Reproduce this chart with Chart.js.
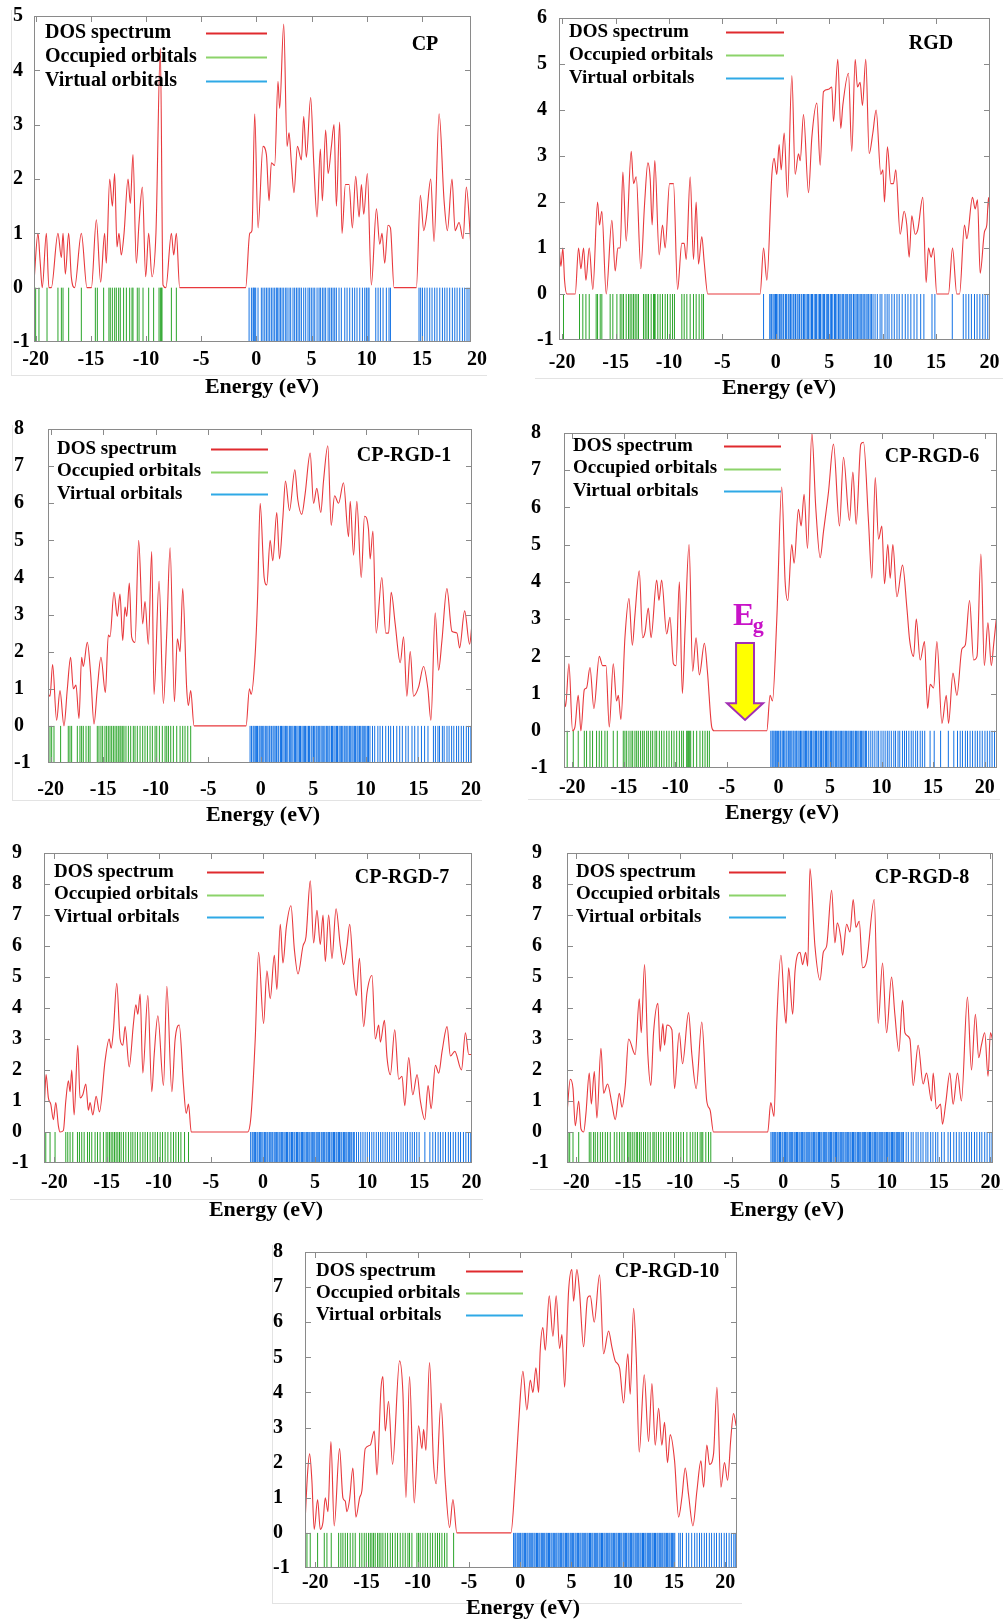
<!DOCTYPE html>
<html>
<head>
<meta charset="utf-8">
<script src="https://cdn.jsdelivr.net/npm/chart.js@4.4.0/dist/chart.umd.min.js"></script>
<style>
  body { margin: 0; background: #fff; width: 1003px; height: 1621px; position: relative; overflow: hidden; }
  canvas { position: absolute; z-index: 1; }
  .edge { position: absolute; background: #e3e3e3; z-index: 0; }
</style>
</head>
<body>
<script>
// tick labels
const xTicks = [-20, -15, -10, -5, 0, 5, 10, 15, 20];
const yTicks5 = [-1, 0, 1, 2, 3, 4, 5];
const yTicks6 = [-1, 0, 1, 2, 3, 4, 5, 6];
const yTicks8 = [-1, 0, 1, 2, 3, 4, 5, 6, 7, 8];
const yTicks9 = [-1, 0, 1, 2, 3, 4, 5, 6, 7, 8, 9];
const legendNames = ['DOS spectrum', 'Occupied orbitals', 'Virtual orbitals'];

// DOS curves, [energy eV, density]
const cpDos = [[-20.15,0.1],[-19.79,1.0],[-19.6,0.5],[-19.4,0],[-19.03,1.0],[-18.8,0],[-18.58,0],[-17.98,1.0],[-17.67,0.55],[-17.52,1.0],[-17.31,0.25],[-17.01,1.0],[-16.77,0.2],[-16.47,0],[-15.86,1.0],[-15.35,0],[-14.95,0],[-14.5,1.25],[-14.11,0.1],[-13.75,1.0],[-13.6,0.45],[-13.29,2.0],[-13.05,1.5],[-12.84,2.1],[-12.63,0.75],[-12.45,1.0],[-12.24,0.6],[-11.99,1.0],[-11.63,2.0],[-11.42,1.55],[-11.18,2.45],[-10.88,0.45],[-10.63,1.2],[-10.33,1.85],[-10.03,0.2],[-9.76,1.0],[-9.46,0.2],[-9.1,1.0],[-8.7,4.4],[-8.46,0.05],[-8.2,0],[-7.7,1.0],[-7.49,0.6],[-7.25,1.0],[-6.95,0],[-0.97,0],[-0.6,1.0],[-0.4,1.05],[-0.15,3.2],[0.15,1.1],[0.6,2.6],[0.91,2.45],[1.15,1.6],[1.36,2.3],[1.66,2.25],[1.96,3.8],[2.11,3.3],[2.48,4.85],[2.78,2.6],[2.96,2.85],[3.17,2.3],[3.41,1.75],[3.72,2.6],[4.08,2.35],[4.29,3.15],[4.53,2.4],[4.92,3.5],[5.2,2.3],[5.5,1.3],[5.8,2.55],[5.98,1.6],[6.28,2.9],[6.5,2.1],[6.8,2.6],[7.04,3.0],[7.25,1.5],[7.55,3.05],[7.76,1.0],[8.07,1.9],[8.4,1.9],[8.7,1.1],[9.0,2.05],[9.31,1.3],[9.52,1.9],[9.73,1.35],[10.06,2.1],[10.42,0.05],[10.88,1.45],[11.18,0.8],[11.39,1.0],[11.63,0.45],[11.93,1.15],[12.15,1.1],[12.48,0],[14.5,0],[14.86,1.7],[15.17,1.05],[15.41,1.3],[15.8,2.0],[16.1,0.85],[16.56,3.2],[17.01,1.6],[17.31,1.05],[17.73,2.0],[18.01,1.05],[18.37,1.2],[18.73,0.9],[19.03,1.85],[19.43,0.8]];

const rgdDos = [[-20.28,1.0],[-20.12,0.6],[-19.94,1.0],[-19.78,0.3],[-19.56,0],[-18.78,0],[-18.47,1.0],[-18.25,0.55],[-18.0,1.0],[-17.78,0.3],[-17.47,1.0],[-17.13,0.1],[-16.69,2.0],[-16.51,1.5],[-16.29,1.8],[-15.88,0],[-15.35,1.6],[-15.04,0.5],[-14.79,1.0],[-14.57,1.0],[-14.32,2.65],[-14.01,1.15],[-13.54,3.1],[-13.32,2.4],[-13.07,2.55],[-12.64,0.55],[-12.29,1.95],[-11.98,2.85],[-11.76,2.5],[-11.58,1.5],[-11.33,2.9],[-10.92,0.85],[-10.61,1.5],[-10.36,1.0],[-9.95,2.4],[-9.58,2.4],[-9.2,0.1],[-8.8,1.1],[-8.58,1.1],[-8.39,0.75],[-8.02,2.55],[-7.71,0.75],[-7.46,2.0],[-7.24,0.65],[-6.93,1.25],[-6.71,0.7],[-6.37,0],[-1.47,0],[-1.15,1.0],[-0.84,0.3],[-0.37,2.6],[-0.16,2.95],[0.09,2.6],[0.31,3.25],[0.5,2.7],[0.78,3.5],[1.09,2.1],[1.5,4.75],[1.81,2.6],[2.12,3.05],[2.28,2.9],[2.59,3.9],[3.06,2.2],[3.37,3.4],[3.84,4.15],[4.15,2.8],[4.46,4.4],[4.93,4.45],[5.24,4.5],[5.4,3.75],[5.8,5.1],[6.08,3.6],[6.27,4.1],[6.8,4.8],[7.11,3.1],[7.43,5.1],[7.64,4.5],[7.89,4.6],[8.11,4.1],[8.42,5.1],[8.74,3.05],[9.08,3.5],[9.39,4.0],[9.83,2.6],[10.02,2.7],[10.17,2.0],[10.45,3.2],[10.76,2.4],[11.01,2.4],[11.23,2.7],[11.64,1.3],[12.01,1.8],[12.26,1.5],[12.48,0.8],[12.73,1.7],[13.04,1.3],[13.29,1.4],[13.76,2.1],[14.07,0.25],[14.29,1.0],[14.54,0.8],[14.76,1.0],[15.07,0],[16.16,0],[16.54,1.0],[16.94,0],[17.2,0],[17.66,1.5],[17.88,1.2],[18.41,2.1],[18.66,1.85],[18.88,2.05],[19.13,0.45],[19.53,1.35],[19.75,1.5],[19.91,2.1],[20.06,1.6]];

const rgd1Dos = [[-20.22,0.85],[-20.06,0.8],[-19.81,1.65],[-19.43,0.15],[-19.11,0.95],[-18.73,0],[-18.41,1.0],[-18.1,1.85],[-17.84,1.0],[-17.59,1.1],[-17.3,0.2],[-17.05,1.85],[-16.89,1.6],[-16.51,2.25],[-16.19,1.4],[-15.87,0.05],[-15.56,1.0],[-15.21,1.85],[-14.79,0.9],[-14.51,2.45],[-14.35,2.4],[-13.97,3.6],[-13.65,2.95],[-13.4,3.55],[-13.14,2.3],[-12.92,3.2],[-12.76,2.95],[-12.51,3.85],[-12.29,2.4],[-11.97,2.25],[-11.62,5.0],[-11.24,2.75],[-11.02,3.35],[-10.7,2.2],[-10.38,4.7],[-10.16,0.85],[-9.68,3.9],[-9.27,0.6],[-8.95,2.5],[-8.63,4.8],[-8.22,0.65],[-7.94,2.35],[-7.68,2.0],[-7.43,3.7],[-7.05,1.0],[-6.89,0.55],[-6.67,0.95],[-6.35,0],[-1.4,0],[-1.08,1.0],[-0.92,0.85],[-0.54,1.9],[-0.3,3.5],[-0.06,6.0],[0.32,4.0],[0.57,3.8],[0.89,5.0],[1.14,4.45],[1.52,5.75],[1.78,4.5],[2.1,5.6],[2.35,6.6],[2.73,5.8],[3.24,6.9],[3.52,6.1],[3.9,5.7],[4.22,6.25],[4.7,7.35],[5.02,6.0],[5.33,6.4],[5.71,5.75],[5.97,6.6],[6.38,7.55],[6.7,5.4],[7.02,6.2],[7.4,6.0],[7.87,6.55],[8.35,5.1],[8.51,6.05],[8.83,4.6],[9.14,6.05],[9.56,4.0],[9.87,5.65],[10.25,5.3],[10.41,4.5],[10.67,5.25],[10.98,2.5],[11.52,4.0],[11.9,2.5],[12.16,2.5],[12.41,3.6],[12.79,2.75],[13.27,1.7],[13.59,2.4],[13.9,0.8],[14.22,2.0],[14.54,0.8],[15.02,1.05],[15.49,1.6],[15.9,1.0],[16.19,0.15],[16.6,3.05],[16.92,1.5],[17.24,2.3],[17.71,3.7],[18.19,2.55],[18.67,2.5],[18.92,2.1],[19.4,3.1],[19.87,2.2],[20.1,2.75]];

const rgd6Dos = [[-20.81,1.0],[-20.65,0.65],[-20.32,1.8],[-19.97,0],[-19.74,0.1],[-19.42,0.95],[-19.16,0],[-18.83,1.1],[-18.61,1.15],[-18.28,1.7],[-17.9,0.6],[-17.38,2.0],[-17.06,1.75],[-16.73,1.75],[-16.41,0.1],[-16.02,1.8],[-15.7,0.8],[-15.53,0.95],[-15.28,0.3],[-14.89,2.5],[-14.5,3.55],[-14.17,2.3],[-13.92,3.1],[-13.5,4.3],[-13.17,2.5],[-12.94,2.65],[-12.62,3.3],[-12.36,2.5],[-11.81,4.05],[-11.59,3.5],[-11.33,4.05],[-10.84,2.6],[-10.52,3.05],[-10.19,1.8],[-9.94,1.75],[-9.61,4.0],[-9.32,1.0],[-9.06,2.7],[-8.67,5.0],[-8.32,1.6],[-7.99,2.5],[-7.67,1.5],[-7.18,2.35],[-6.89,1.6],[-6.47,0.1],[-6.25,0],[-1.13,0],[-0.81,0.95],[-0.58,0.8],[-0.16,3.0],[0.32,6.55],[0.65,4.0],[0.91,3.5],[1.29,5.0],[1.52,4.5],[1.94,5.95],[2.2,5.5],[2.49,6.35],[2.82,4.9],[3.24,8.0],[3.62,6.0],[4.05,4.65],[4.37,5.35],[4.85,6.4],[5.34,7.7],[5.92,5.5],[6.31,7.35],[6.89,5.65],[7.22,6.95],[7.54,5.55],[7.99,7.7],[8.25,7.75],[8.74,5.6],[9.06,4.1],[9.39,6.8],[9.71,5.15],[10.03,5.5],[10.29,3.95],[10.61,5.0],[10.84,4.1],[11.1,5.0],[11.49,3.6],[12.04,4.45],[12.46,3.3],[12.72,2.45],[13.11,2.0],[13.37,3.0],[13.75,1.9],[14.17,2.4],[14.47,0.6],[14.72,1.25],[15.05,1.15],[15.37,2.4],[15.86,0.2],[16.28,0.95],[16.5,0.2],[16.93,1.55],[17.31,0.95],[17.8,2.2],[18.12,2.3],[18.54,3.5],[18.93,1.9],[19.26,2.0],[19.64,4.75],[19.97,1.75],[20.32,2.9],[20.65,1.75],[20.87,2.3],[21.13,3.0]];

const rgd7Dos = [[-20.96,0.9],[-20.8,1.85],[-20.58,1.1],[-20.35,0.9],[-20.1,0.4],[-19.87,0.95],[-19.62,0.2],[-19.46,0],[-19.14,0.05],[-18.91,1.0],[-18.66,1.65],[-18.5,1.3],[-18.34,2.0],[-18.11,0.55],[-17.76,2.8],[-17.54,1.1],[-17.28,1.2],[-16.99,1.55],[-16.74,0.7],[-16.58,0.95],[-16.32,0.55],[-16.0,1.15],[-15.68,0.65],[-15.14,2.3],[-14.75,3.0],[-14.56,2.7],[-14.34,3.3],[-14.02,4.8],[-13.7,3.0],[-13.44,2.8],[-13.22,3.4],[-12.83,2.1],[-12.42,3.5],[-12.19,4.1],[-12.0,3.8],[-11.78,4.45],[-11.52,1.9],[-11.04,4.4],[-10.66,1.3],[-10.43,2.5],[-10.08,3.75],[-9.54,1.5],[-9.22,4.7],[-8.74,1.3],[-8.42,3.0],[-8.03,3.45],[-7.62,1.5],[-7.36,0.6],[-7.14,0.9],[-6.88,0],[-1.47,0],[-1.15,0.5],[-0.74,3.0],[-0.42,5.8],[0.06,3.5],[0.38,5.2],[0.7,4.3],[1.09,5.7],[1.34,4.6],[1.66,6.7],[1.92,5.45],[2.24,6.6],[2.69,7.3],[3.01,5.9],[3.36,5.1],[3.84,6.0],[4.13,6.3],[4.54,8.1],[4.86,6.1],[5.18,7.15],[5.5,6.05],[5.76,7.0],[5.98,5.5],[6.3,7.0],[6.62,5.6],[7.01,7.2],[7.42,6.0],[7.74,5.4],[8.06,6.0],[8.32,6.7],[8.7,5.0],[8.96,4.4],[9.25,5.6],[9.66,3.4],[9.98,4.5],[10.46,5.05],[10.78,3.0],[11.1,3.45],[11.26,2.9],[11.65,3.6],[11.9,2.4],[12.22,1.85],[12.64,3.3],[13.02,1.7],[13.34,1.8],[13.6,0.85],[13.98,2.4],[14.37,1.2],[14.78,1.85],[15.1,1.0],[15.52,0.4],[15.84,1.5],[16.13,0.75],[16.54,2.15],[16.86,1.9],[17.18,2.6],[17.66,3.4],[17.98,2.45],[18.4,2.6],[19.04,2.0],[19.42,3.2],[19.74,2.5],[20.0,2.5]];

const rgd8Dos = [[-20.9,0.6],[-20.58,1.7],[-20.32,1.4],[-20.1,0.2],[-19.77,1.0],[-19.55,0.1],[-19.29,0],[-19.07,0.6],[-18.75,1.9],[-18.55,0.9],[-18.26,1.95],[-18.01,0.45],[-17.62,2.7],[-17.36,1.25],[-16.98,1.55],[-16.56,0.9],[-16.24,0.4],[-15.85,1.25],[-15.59,0.8],[-15.27,1.5],[-14.95,3.0],[-14.31,2.5],[-13.92,4.3],[-13.73,3.2],[-13.41,5.4],[-13.09,2.5],[-12.8,1.5],[-12.54,3.2],[-12.12,4.15],[-11.9,2.6],[-11.64,3.5],[-11.48,2.8],[-11.25,3.45],[-10.77,3.3],[-10.51,1.4],[-10.06,3.2],[-9.74,2.2],[-9.16,3.85],[-8.84,2.5],[-8.42,1.4],[-7.88,3.55],[-7.4,1.0],[-7.07,0.7],[-6.75,0],[-1.51,0],[-1.22,0.95],[-0.9,0.5],[-0.64,3.5],[-0.23,5.7],[0.1,4.0],[0.26,3.5],[0.51,5.3],[0.9,3.8],[1.13,5.2],[1.61,5.8],[1.86,5.4],[2.15,5.8],[2.35,5.35],[2.57,8.5],[3.05,6.0],[3.54,4.9],[3.86,5.8],[4.18,6.0],[4.66,7.8],[4.98,6.1],[5.21,6.75],[5.53,6.3],[5.72,5.7],[6.11,6.7],[6.43,6.45],[6.75,7.5],[7.01,6.6],[7.33,6.8],[7.65,5.3],[8.04,5.5],[8.78,7.5],[9.16,3.5],[9.58,5.45],[9.97,3.2],[10.45,5.0],[10.77,3.8],[11.16,2.6],[11.51,4.25],[11.74,3.2],[12.22,3.0],[12.54,1.5],[13.02,2.8],[13.5,1.55],[13.83,1.9],[14.31,1.0],[14.47,1.9],[14.79,0.75],[15.18,0.9],[15.37,0.25],[15.69,0.95],[16.08,1.9],[16.4,0.9],[16.82,1.9],[17.2,1.0],[17.78,4.35],[18.17,2.0],[18.55,3.8],[18.87,2.4],[19.13,2.8],[19.45,3.2],[19.77,1.8],[20.0,3.2],[20.26,2.9]];

const rgd10Dos = [[-20.98,0.4],[-20.75,1.7],[-20.55,2.25],[-20.33,1.5],[-20.1,0.1],[-19.77,0.95],[-19.51,0.1],[-19.25,0.3],[-19.02,1.0],[-18.76,0.6],[-18.47,2.6],[-18.15,0.2],[-17.63,2.4],[-17.3,1.0],[-17.07,0.9],[-16.91,0.6],[-16.65,0.95],[-16.33,1.85],[-16.03,0.45],[-15.67,1.0],[-15.45,1.2],[-15.12,2.4],[-14.63,2.5],[-14.24,2.9],[-13.98,1.65],[-13.59,4.1],[-13.4,4.45],[-13.17,2.9],[-12.85,3.75],[-12.46,1.95],[-11.77,4.9],[-11.45,4.0],[-11.15,1.0],[-10.8,4.45],[-10.34,0.85],[-9.92,3.05],[-9.59,2.4],[-9.43,2.95],[-9.2,2.35],[-8.85,4.85],[-8.46,2.0],[-8.2,1.4],[-7.74,3.7],[-7.32,1.5],[-6.89,0.15],[-6.57,0.95],[-6.18,0],[-0.91,0],[-0.49,1.5],[-0.16,3.1],[0.26,4.6],[0.65,3.5],[0.98,4.35],[1.24,4.0],[1.53,4.7],[1.79,4.0],[1.95,5.2],[2.21,5.85],[2.44,5.2],[2.83,6.75],[3.19,5.6],[3.51,6.75],[3.84,5.25],[4.07,5.65],[4.33,4.15],[4.72,6.9],[5.04,7.5],[5.2,6.6],[5.53,7.5],[5.79,6.85],[6.18,5.3],[6.57,6.7],[6.83,6.75],[7.22,6.0],[7.74,7.35],[8.13,5.1],[8.62,5.75],[8.94,5.3],[9.27,4.9],[9.69,4.7],[10.08,3.7],[10.5,5.1],[10.73,3.95],[11.06,6.4],[11.32,5.0],[11.61,2.3],[12.1,4.5],[12.52,2.6],[12.85,4.25],[13.17,2.5],[13.5,3.55],[13.82,2.5],[14.08,3.15],[14.37,2.0],[14.63,2.8],[15.06,2.05],[15.45,0.45],[15.77,1.0],[16.1,1.85],[16.42,1.1],[16.85,0.2],[17.24,1.2],[17.63,2.05],[17.89,1.3],[18.21,2.5],[18.47,1.95],[18.86,2.25],[19.19,4.15],[19.58,1.3],[19.93,2.0],[20.23,1.5],[20.55,2.7],[20.81,3.4],[21.07,3.05]];

// orbital energies (eV)
const cpOcc = [-20.0,-19.7,-18.97,-17.98,-17.67,-17.52,-17.01,-15.86,-14.59,-14.41,-13.84,-13.36,-13.24,-13.05,-12.84,-12.69,-12.48,-12.33,-12.03,-11.78,-11.48,-11.27,-11.18,-10.79,-10.63,-10.27,-9.76,-9.31,-8.82,-8.7,-8.61,-8.55,-7.7,-7.25];
const cpVirt = [-0.66,-0.45,-0.3,-0.24,-0.15,-0.06,0.15,0.45,0.6,0.76,0.91,1.06,1.21,1.36,1.51,1.66,1.81,1.9,2.05,2.18,2.33,2.48,2.66,2.78,2.96,3.11,3.32,3.47,3.63,3.78,3.93,4.08,4.29,4.47,4.68,4.83,4.98,5.14,5.29,5.5,5.68,5.8,5.98,6.13,6.28,6.5,6.65,6.8,6.95,7.1,7.25,7.49,7.7,8.01,8.22,8.46,8.7,8.91,9.12,9.37,9.61,9.82,9.97,10.12,10.21,10.82,11.03,11.24,11.48,11.78,12.02,12.15,14.74,14.89,15.05,15.26,15.47,15.71,15.92,16.16,16.37,16.62,16.86,17.07,17.28,17.52,17.76,17.98,18.19,18.43,18.67,18.88,19.09,19.27];

const rgdOcc = [-19.88,-18.38,-18.07,-17.78,-17.47,-16.82,-16.69,-16.44,-16.29,-15.51,-15.26,-14.88,-14.57,-14.41,-14.26,-14.01,-13.79,-13.64,-13.48,-13.32,-13.17,-13.01,-12.86,-12.39,-12.23,-12.07,-11.92,-11.67,-11.45,-11.36,-11.3,-11.05,-10.83,-10.61,-10.36,-10.14,-9.89,-9.67,-9.49,-8.8,-8.58,-8.33,-8.02,-7.71,-7.46,-7.18,-6.93,-6.77];
const rgdVirt = [-1.15,-0.57,-0.46,-0.39,-0.26,-0.15,-0.03,0.06,0.19,0.33,0.41,0.55,0.68,0.74,0.9,1.01,1.16,1.24,1.37,1.5,1.63,1.7,1.84,1.99,2.08,2.21,2.37,2.44,2.59,2.7,2.83,2.98,3.05,3.2,3.34,3.43,3.59,3.72,3.8,3.96,4.09,4.18,4.33,4.47,4.56,4.72,4.85,4.94,5.1,5.21,5.33,5.49,5.58,5.72,5.87,5.99,6.1,6.26,6.35,6.5,6.64,6.73,6.88,7.02,7.11,7.27,7.4,7.52,7.66,7.78,7.9,8.04,8.17,8.28,8.44,8.55,8.69,8.83,8.95,9.1,9.29,9.5,9.76,9.93,10.22,10.42,10.6,10.86,11.09,11.34,11.55,11.83,12.12,12.37,12.64,12.94,13.21,13.56,13.86,14.62,14.89,16.52,17.55,17.8,18.06,18.31,18.6,18.84,19.1,19.37,19.6,19.84];

const rgd1Occ = [-20.06,-19.9,-19.68,-19.05,-18.32,-18.16,-18.0,-17.46,-17.21,-17.05,-16.89,-16.63,-16.41,-16.25,-15.56,-15.4,-15.21,-15.05,-14.83,-14.67,-14.51,-14.35,-14.19,-14.03,-13.87,-13.71,-13.56,-13.4,-13.3,-13.14,-13.02,-12.83,-12.6,-12.38,-12.13,-11.97,-11.75,-11.49,-11.24,-11.02,-10.79,-10.54,-10.32,-10.06,-9.9,-9.65,-9.37,-9.11,-8.95,-8.79,-8.57,-8.32,-8.0,-7.68,-7.43,-7.21,-6.95,-6.67];
const rgd1Virt = [-1.02,-0.88,-0.73,-0.64,-0.52,-0.4,-0.31,-0.16,-0.07,0.05,0.18,0.29,0.43,0.52,0.67,0.8,0.87,1.01,1.16,1.26,1.37,1.49,1.64,1.71,1.87,1.97,2.1,2.22,2.36,2.43,2.57,2.72,2.81,2.95,3.06,3.2,3.3,3.43,3.55,3.68,3.78,3.92,4.04,4.17,4.26,4.4,4.54,4.63,4.79,4.88,5.02,5.13,5.27,5.36,5.51,5.61,5.74,5.85,5.99,6.1,6.24,6.33,6.48,6.58,6.73,6.82,6.96,7.07,7.21,7.3,7.45,7.56,7.69,7.8,7.94,8.03,8.18,8.29,8.43,8.52,8.67,8.78,8.91,9.02,9.16,9.26,9.4,9.51,9.65,9.75,9.89,10.0,10.14,10.25,10.39,10.63,10.84,11.14,11.35,11.59,11.89,12.15,12.36,12.63,12.94,13.22,13.47,13.8,14.03,14.39,14.65,14.96,15.29,15.59,15.91,16.43,16.62,16.86,17.01,17.28,17.45,17.72,17.92,18.16,18.37,18.63,18.83,19.08,19.3,19.56,19.77,19.99];

const rgd6Occ = [-20.49,-19.9,-19.42,-18.83,-18.61,-18.28,-18.03,-17.64,-17.38,-17.15,-16.83,-16.6,-16.02,-15.63,-15.05,-14.89,-14.72,-14.5,-14.3,-14.14,-13.92,-13.75,-13.59,-13.37,-13.17,-13.01,-12.78,-12.62,-12.39,-12.2,-11.97,-11.81,-11.55,-11.33,-11.1,-10.84,-10.61,-10.36,-10.13,-9.87,-9.61,-9.39,-9.22,-8.9,-8.8,-8.71,-8.61,-8.51,-8.25,-7.93,-7.61,-7.35,-7.12,-6.89,-6.7];
const rgd6Virt = [-0.74,-0.61,-0.52,-0.42,-0.3,-0.21,-0.08,0.02,0.16,0.23,0.37,0.5,0.56,0.73,0.82,0.96,1.05,1.19,1.3,1.43,1.52,1.68,1.77,1.9,2.01,2.14,2.26,2.39,2.5,2.63,2.73,2.87,2.96,3.12,3.21,3.35,3.46,3.59,3.69,3.84,3.93,4.07,4.18,4.32,4.41,4.56,4.66,4.79,4.9,5.04,5.14,5.28,5.38,5.52,5.62,5.77,5.87,6.0,6.11,6.25,6.36,6.49,6.59,6.74,6.84,6.97,7.08,7.22,7.32,7.47,7.56,7.7,7.81,7.95,8.05,8.19,8.3,8.44,8.55,8.76,8.96,9.15,9.35,9.56,9.72,9.95,10.15,10.35,10.56,10.74,10.95,11.19,11.36,11.6,11.77,12.03,12.23,12.42,12.65,12.88,13.07,13.31,13.5,13.75,13.96,14.19,14.71,15.11,15.73,16.48,17.01,17.37,17.63,17.85,18.13,18.34,18.59,18.83,19.08,19.3,19.54,19.77,20.03,20.26,20.5,20.72,20.96];

const rgd7Occ = [-20.83,-20.42,-19.94,-18.91,-18.72,-18.5,-18.24,-17.79,-17.6,-17.38,-17.15,-16.83,-16.64,-16.42,-16.1,-15.87,-15.62,-15.3,-15.04,-14.88,-14.72,-14.56,-14.4,-14.24,-14.08,-13.92,-13.76,-13.6,-13.38,-13.15,-12.9,-12.67,-12.48,-12.26,-12.03,-11.78,-11.52,-11.3,-11.07,-10.82,-10.56,-10.34,-10.11,-9.86,-9.63,-9.38,-9.12,-8.83,-8.58,-8.35,-8.1,-7.87,-7.52,-7.14];
const rgd7Virt = [-1.18,-1.03,-0.94,-0.8,-0.71,-0.57,-0.48,-0.34,-0.25,-0.11,0.0,0.14,0.23,0.38,0.47,0.61,0.7,0.85,0.94,1.08,1.18,1.31,1.42,1.55,1.65,1.79,1.89,2.02,2.13,2.26,2.36,2.51,2.6,2.74,2.84,2.98,3.07,3.22,3.31,3.45,3.55,3.69,3.79,3.92,4.03,4.16,4.26,4.4,4.5,4.63,4.74,4.87,4.97,5.11,5.21,5.35,5.44,5.59,5.68,5.82,5.92,6.06,6.15,6.3,6.39,6.53,6.63,6.77,6.86,7.01,7.1,7.24,7.34,7.48,7.57,7.72,7.81,7.95,8.05,8.19,8.29,8.43,8.52,8.67,8.76,8.97,9.17,9.38,9.59,9.8,10.01,10.22,10.44,10.64,10.87,11.08,11.29,11.5,11.72,11.93,12.15,12.36,12.58,12.81,13.01,13.24,13.45,13.69,13.86,14.11,14.32,14.53,14.75,14.98,15.53,16.01,16.29,16.54,16.8,17.02,17.27,17.51,17.78,17.99,18.25,18.48,18.74,18.95,19.23,19.46,19.71,19.93];

const rgd8Occ = [-20.8,-20.64,-20.32,-19.77,-18.75,-18.59,-18.33,-18.17,-17.94,-17.68,-17.46,-17.2,-16.98,-16.72,-16.33,-16.08,-15.82,-15.59,-15.37,-15.05,-14.92,-14.79,-14.6,-14.41,-14.21,-14.08,-13.89,-13.73,-13.5,-13.31,-13.09,-12.86,-12.6,-12.48,-12.28,-12.06,-11.83,-11.58,-11.32,-11.09,-10.87,-10.61,-10.35,-10.13,-9.9,-9.65,-9.32,-9.0,-8.75,-8.52,-8.3,-8.04,-7.88,-7.78,-7.49,-7.23,-7.01];
const rgd8Virt = [-1.2,-1.07,-0.98,-0.84,-0.74,-0.6,-0.51,-0.37,-0.28,-0.13,-0.04,0.1,0.2,0.33,0.43,0.57,0.67,0.8,0.9,1.04,1.14,1.27,1.37,1.51,1.61,1.74,1.84,1.98,2.08,2.21,2.31,2.45,2.55,2.68,2.78,2.92,3.02,3.15,3.25,3.39,3.49,3.62,3.72,3.86,3.96,4.09,4.19,4.33,4.43,4.56,4.66,4.8,4.9,5.03,5.13,5.27,5.37,5.5,5.6,5.74,5.84,5.97,6.07,6.21,6.31,6.44,6.54,6.68,6.78,6.91,7.01,7.15,7.25,7.38,7.48,7.62,7.72,7.85,7.95,8.09,8.19,8.32,8.42,8.56,8.66,8.79,8.89,9.03,9.13,9.26,9.36,9.5,9.6,9.73,9.83,9.97,10.07,10.2,10.3,10.44,10.54,10.67,10.77,10.91,11.01,11.14,11.24,11.38,11.48,11.61,11.86,12.07,12.35,12.54,12.82,13.02,13.28,13.49,13.77,13.96,14.23,14.45,14.71,14.92,15.29,15.54,15.91,16.14,16.46,16.71,16.98,17.19,17.47,17.7,17.96,18.18,18.46,18.69,18.96,19.17,19.45,19.68,19.94,20.15];

const rgd10Occ = [-20.81,-20.49,-19.77,-19.12,-18.86,-18.44,-17.72,-17.5,-17.3,-17.07,-16.85,-16.59,-16.33,-16.1,-15.67,-15.45,-15.22,-15.02,-14.8,-14.63,-14.47,-14.31,-14.15,-13.92,-13.76,-13.59,-13.4,-13.17,-12.94,-12.68,-12.46,-12.2,-11.97,-11.71,-11.45,-11.22,-10.96,-10.8,-10.57,-10.08,-9.92,-9.76,-9.5,-9.27,-9.04,-8.78,-8.55,-8.29,-8.07,-7.87,-7.64,-7.38,-7.15,-6.5];
const rgd10Virt = [-0.65,-0.52,-0.43,-0.29,-0.19,-0.05,0.04,0.18,0.28,0.41,0.51,0.65,0.75,0.88,0.98,1.12,1.22,1.35,1.45,1.59,1.69,1.82,1.92,2.06,2.16,2.29,2.39,2.53,2.63,2.76,2.86,3.0,3.1,3.23,3.33,3.47,3.57,3.7,3.8,3.94,4.04,4.17,4.27,4.41,4.51,4.64,4.74,4.88,4.98,5.11,5.21,5.35,5.45,5.58,5.68,5.82,5.92,6.05,6.15,6.29,6.39,6.52,6.62,6.76,6.86,6.99,7.09,7.23,7.33,7.46,7.56,7.7,7.8,7.93,8.03,8.17,8.27,8.4,8.5,8.64,8.74,8.87,8.97,9.11,9.21,9.34,9.44,9.58,9.68,9.81,9.91,10.05,10.15,10.28,10.38,10.52,10.62,10.75,10.85,10.99,11.09,11.22,11.32,11.46,11.56,11.69,11.79,11.93,12.03,12.16,12.26,12.4,12.5,12.63,12.73,12.87,12.97,13.1,13.2,13.34,13.44,13.57,13.67,13.81,13.91,14.04,14.14,14.28,14.38,14.51,14.61,14.75,14.85,14.98,15.08,15.47,15.62,15.83,16.21,16.44,16.73,17.02,17.25,17.49,17.7,17.96,18.18,18.45,18.67,18.93,19.15,19.42,19.63,19.9,20.12,20.38,20.6,20.84,20.98];

// panel layout (page pixels) and axis ranges
const panels = [
  { name: 'CP', dos: cpDos, occ: cpOcc, virt: cpVirt, yTicks: yTicks5, xMin: -20.15, xMax: 19.45,
    frame: [34, 16, 471, 342], xLabelY: 360, yLabelX: 13, title: [262, 387], tag: [425, 45],
    legend: { x: 45, y: 33, gap: 24, line: [206, 267], size: 20 },
    edges: [[11, 10, 1, 365], [11, 375, 476, 1]] },
  { name: 'RGD', dos: rgdDos, occ: rgdOcc, virt: rgdVirt, yTicks: yTicks6, xMin: -20.3, xMax: 20.05,
    frame: [559, 18, 990, 340], xLabelY: 363, yLabelX: 537, title: [779, 388], tag: [931, 44],
    legend: { x: 569, y: 32, gap: 23, line: [726, 784], size: 19 },
    edges: [[535, 378, 468, 1]] },
  { name: 'CP-RGD-1', dos: rgd1Dos, occ: rgd1Occ, virt: rgd1Virt, yTicks: yTicks8, xMin: -20.25, xMax: 20.1,
    frame: [48, 429, 472, 763], xLabelY: 790, yLabelX: 14, title: [263, 815], tag: [404, 456],
    legend: { x: 57, y: 449, gap: 22.5, line: [211, 268], size: 19 },
    edges: [[12, 425, 1, 375], [12, 800, 470, 1]] },
  { name: 'CP-RGD-6', dos: rgd6Dos, occ: rgd6Occ, virt: rgd6Virt, yTicks: yTicks8, xMin: -20.8, xMax: 21.2,
    frame: [564, 433, 997, 768], xLabelY: 788, yLabelX: 531, title: [782, 813], tag: [932, 457],
    legend: { x: 573, y: 446, gap: 22.5, line: [724, 781], size: 19 },
    edges: [[528, 799, 472, 1]],
    gapArrow: { x: -3.24, half: 0.87, headHalf: 1.75, top: 2.36, neck: 0.74, tip: 0.29,
                text: [-4.4, 2.84], sub: [-2.49, 2.66] } },
  { name: 'CP-RGD-7', dos: rgd7Dos, occ: rgd7Occ, virt: rgd7Virt, yTicks: yTicks9, xMin: -21.0, xMax: 20.05,
    frame: [44, 853, 472, 1163], xLabelY: 1183, yLabelX: 12, title: [266, 1210], tag: [402, 878],
    legend: { x: 54, y: 872, gap: 22.5, line: [207, 264], size: 19 },
    edges: [[10, 1199, 473, 1]] },
  { name: 'CP-RGD-8', dos: rgd8Dos, occ: rgd8Occ, virt: rgd8Virt, yTicks: yTicks9, xMin: -20.9, xMax: 20.25,
    frame: [567, 853, 993, 1163], xLabelY: 1183, yLabelX: 532, title: [787, 1210], tag: [922, 878],
    legend: { x: 576, y: 872, gap: 22.5, line: [729, 786], size: 19 },
    edges: [[530, 1189, 473, 1]] },
  { name: 'CP-RGD-10', dos: rgd10Dos, occ: rgd10Occ, virt: rgd10Virt, yTicks: yTicks8, xMin: -21.0, xMax: 21.15,
    frame: [305, 1252, 737, 1568], xLabelY: 1583, yLabelX: 273, title: [523, 1608], tag: [667, 1272],
    legend: { x: 316, y: 1271, gap: 22, line: [466, 523], size: 19 },
    edges: [[272, 1245, 1, 358], [272, 1603, 470, 1]] }
];

const PAD = { l: 40, t: 25, r: 35, b: 75 };
const SERIF = '"Liberation Serif", "Times New Roman", serif';
const RED = '#e8393d', GREEN = '#2ba52b', BLUE = '#1472e4';
const LEGEND_COLORS = ['#e02a2e', '#8cd36a', '#2fa9e6'];

// each orbital becomes a vertical stick from -1 to 0, separated by gaps
function sticks(energies) {
  const pts = [];
  energies.forEach(e => { pts.push({ x: e, y: -1 }, { x: e, y: 0 }, { x: e, y: null }); });
  return pts;
}

function panelDecor(p) {
  return {
    id: 'decor',
    afterDraw(chart) {
      const { ctx, chartArea: a } = chart;
      const sx = chart.scales.x, sy = chart.scales.y;
      const ox = p.frame[0] - PAD.l, oy = p.frame[1] - PAD.t;
      ctx.save();

      // frame with inward ticks
      ctx.strokeStyle = '#8a8a8a';
      ctx.lineWidth = 1;
      ctx.strokeRect(a.left + 0.5, a.top + 0.5, a.right - a.left - 1, a.bottom - a.top - 1);
      ctx.beginPath();
      xTicks.forEach(v => {
        if (v <= sx.min || v >= sx.max) return;
        const px = Math.round(sx.getPixelForValue(v)) + 0.5;
        ctx.moveTo(px, a.bottom); ctx.lineTo(px, a.bottom - 6);
        ctx.moveTo(px, a.top); ctx.lineTo(px, a.top + 6);
      });
      p.yTicks.forEach(v => {
        if (v <= sy.min || v >= sy.max) return;
        const py = Math.round(sy.getPixelForValue(v)) + 0.5;
        ctx.moveTo(a.left, py); ctx.lineTo(a.left + 6, py);
        ctx.moveTo(a.right, py); ctx.lineTo(a.right - 6, py);
      });
      ctx.stroke();

      // tick labels
      ctx.fillStyle = '#000';
      ctx.font = 'bold 20px ' + SERIF;
      ctx.textBaseline = 'middle';
      ctx.textAlign = 'center';
      xTicks.forEach(v => ctx.fillText(String(v), sx.getPixelForValue(v), p.xLabelY - oy));
      ctx.textAlign = 'left';
      p.yTicks.forEach(v => ctx.fillText(String(v), p.yLabelX - ox, sy.getPixelForValue(v)));

      // axis title
      ctx.textAlign = 'center';
      ctx.font = 'bold 22px ' + SERIF;
      ctx.fillText('Energy (eV)', p.title[0] - ox, p.title[1] - oy);

      // legend
      const lg = p.legend;
      ctx.font = 'bold ' + lg.size + 'px ' + SERIF;
      ctx.textAlign = 'left';
      legendNames.forEach((name, i) => {
        const ly = lg.y + i * lg.gap - oy;
        ctx.fillStyle = '#000';
        ctx.fillText(name, lg.x - ox, ly);
        ctx.strokeStyle = LEGEND_COLORS[i];
        ctx.lineWidth = 2;
        ctx.beginPath();
        ctx.moveTo(lg.line[0] - ox, Math.round(ly) + 0.5);
        ctx.lineTo(lg.line[1] - ox, Math.round(ly) + 0.5);
        ctx.stroke();
      });

      // panel name
      ctx.fillStyle = '#000';
      ctx.textAlign = 'center';
      ctx.font = 'bold 20px ' + SERIF;
      ctx.fillText(p.name, p.tag[0] - ox, p.tag[1] - oy);

      // band gap arrow
      const g = p.gapArrow;
      if (g) {
        const X = v => sx.getPixelForValue(v), Y = v => sy.getPixelForValue(v);
        ctx.beginPath();
        ctx.moveTo(X(g.x - g.half), Y(g.top));
        ctx.lineTo(X(g.x + g.half), Y(g.top));
        ctx.lineTo(X(g.x + g.half), Y(g.neck));
        ctx.lineTo(X(g.x + g.headHalf), Y(g.neck));
        ctx.lineTo(X(g.x), Y(g.tip));
        ctx.lineTo(X(g.x - g.headHalf), Y(g.neck));
        ctx.lineTo(X(g.x - g.half), Y(g.neck));
        ctx.closePath();
        ctx.fillStyle = '#ffff00';
        ctx.fill();
        ctx.strokeStyle = '#a22fb4';
        ctx.lineWidth = 2;
        ctx.lineJoin = 'miter';
        ctx.stroke();
        ctx.fillStyle = '#c813c8';
        ctx.textAlign = 'left';
        ctx.textBaseline = 'alphabetic';
        ctx.font = 'bold 32px ' + SERIF;
        ctx.fillText('E', X(g.text[0]), Y(g.text[1]));
        ctx.font = 'bold 22px ' + SERIF;
        ctx.fillText('g', X(g.sub[0]), Y(g.sub[1]));
      }
      ctx.restore();
    }
  };
}

panels.forEach(p => {
  const [l, t, r, b] = p.frame;

  p.edges.forEach(([x, y, w, h]) => {
    const d = document.createElement('div');
    d.className = 'edge';
    Object.assign(d.style, { left: x + 'px', top: y + 'px', width: w + 'px', height: h + 'px' });
    document.body.appendChild(d);
  });

  const cv = document.createElement('canvas');
  cv.width = r - l + PAD.l + PAD.r;
  cv.height = b - t + PAD.t + PAD.b;
  cv.style.left = (l - PAD.l) + 'px';
  cv.style.top = (t - PAD.t) + 'px';
  document.body.appendChild(cv);

  new Chart(cv, {
    type: 'line',
    data: {
      datasets: [
        {
          label: 'DOS spectrum',
          data: p.dos.map(([e, v]) => ({ x: e, y: v })),
          borderColor: RED,
          borderWidth: 1.1,
          pointRadius: 0,
          cubicInterpolationMode: 'monotone',
          fill: false
        },
        {
          label: 'Occupied orbitals',
          data: sticks(p.occ),
          borderColor: GREEN,
          borderWidth: 1,
          pointRadius: 0,
          tension: 0,
          spanGaps: false,
          fill: false
        },
        {
          label: 'Virtual orbitals',
          data: sticks(p.virt),
          borderColor: BLUE,
          borderWidth: 1,
          pointRadius: 0,
          tension: 0,
          spanGaps: false,
          fill: false
        }
      ]
    },
    options: {
      responsive: false,
      animation: false,
      events: [],
      layout: { padding: { left: PAD.l, top: PAD.t, right: PAD.r, bottom: PAD.b } },
      plugins: { legend: { display: false }, tooltip: { enabled: false } },
      scales: {
        x: { type: 'linear', min: p.xMin, max: p.xMax, display: false },
        y: { type: 'linear', min: -1, max: p.yTicks[p.yTicks.length - 1], display: false }
      }
    },
    plugins: [panelDecor(p)]
  });
});
</script>
</body>
</html>
